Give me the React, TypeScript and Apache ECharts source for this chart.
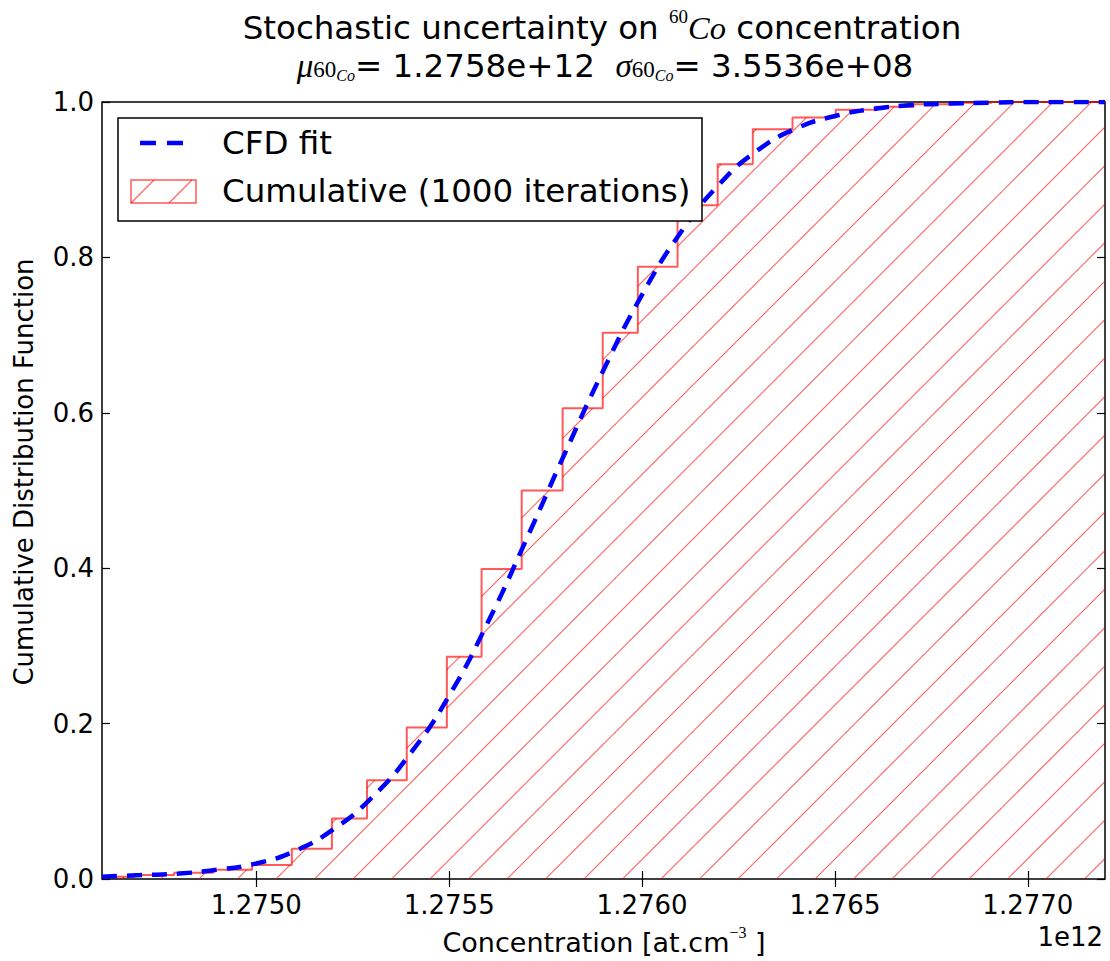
import React, { useEffect, useRef } from "react";
import * as echarts from "echarts";

// ---- data ----
const xMin = 1.2746e12;
const xMax = 1.2772e12;
const xTickValues = [1.275e12, 1.2755e12, 1.276e12, 1.2765e12, 1.277e12];
const yTickValues = [0, 0.2, 0.4, 0.6, 0.8, 1.0];

// left edges of the cumulative histogram bins
const binEdges = [
  1.274584e12, 1.274685e12, 1.274787e12, 1.274888e12, 1.274989e12, 1.275092e12,
  1.275196e12, 1.275287e12, 1.27539e12, 1.275494e12, 1.275584e12, 1.275688e12,
  1.275794e12, 1.275898e12, 1.275989e12, 1.276092e12, 1.276196e12, 1.276287e12,
  1.27639e12, 1.276502e12, 1.276603e12, 1.276704e12, 1.276805e12, 1.276906e12,
];
// cumulative fraction in each bin
const cumulative = [
  0.003, 0.005, 0.008, 0.012, 0.018, 0.039, 0.078, 0.127, 0.195, 0.286, 0.399, 0.5,
  0.606, 0.703, 0.788, 0.867, 0.92, 0.965, 0.98, 0.99, 0.994, 0.997, 0.999, 1.0,
];

// CFD fit curve
const fitX = [
  1.2746e12, 1.2747e12, 1.2748e12, 1.2749e12, 1.275e12, 1.2751e12, 1.2752e12, 1.2753e12,
  1.2754e12, 1.2755e12, 1.2756e12, 1.2757e12, 1.2758e12, 1.2759e12, 1.276e12, 1.2761e12,
  1.2762e12, 1.2763e12, 1.2764e12, 1.2765e12, 1.2766e12, 1.2767e12, 1.2768e12, 1.2769e12,
  1.277e12, 1.2771e12, 1.2772e12,
];
const fitY = [
  0.003, 0.005, 0.007, 0.012, 0.02, 0.036, 0.064, 0.105, 0.162, 0.236, 0.33, 0.437,
  0.548, 0.655, 0.752, 0.832, 0.894, 0.938, 0.966, 0.982, 0.991, 0.996, 0.998, 0.999, 1.0,
  1.0, 1.0,
];

const legendLabels = ["CFD fit", "Cumulative (1000 iterations)"];
const titleLine1 = "Stochastic uncertainty on {sup|60}{it|Co} concentration";
const titleLine2 = "{m|μ}{s1|60}{s2|Co}= 1.2758e+12  {m|σ}{s1|60}{s2|Co}= 3.5536e+08";
const xName = "Concentration [at.cm{sup|−3} ]";
const yName = "Cumulative Distribution Function";
const offsetText = "1e12";

const HATCH = "rgba(255,0,0,0.6)";
const STEP = "rgba(255,0,0,0.65)";

function makeHatch(): HTMLCanvasElement {
  const s = 77;
  const c = document.createElement("canvas");
  c.width = s;
  c.height = s;
  const ctx = c.getContext("2d")!;
  ctx.strokeStyle = HATCH;
  ctx.lineWidth = 1.2;
  for (let k = -2; k <= 5; k++) {
    const cc = k * 38.5;
    ctx.beginPath();
    ctx.moveTo(cc + 10, -10);
    ctx.lineTo(cc - 90, 90);
    ctx.stroke();
  }
  return c;
}

export default function App() {
  const ref = useRef<HTMLDivElement>(null);
  useEffect(() => {
    document.body.style.margin = "0";
    const chart = echarts.init(ref.current!, null, { renderer: "svg" });
    const hatch = makeHatch();
    const stepData = binEdges.map((e, i) => [e, cumulative[i]]);
    stepData.push([xMax, cumulative[cumulative.length - 1]]);
    const fitData = fitX.map((x, i) => [x, fitY[i]]);
    const tick = {
      inside: true,
      length: 8,
      lineStyle: { color: "#000", width: 1.2 },
    };
    const font = "DejaVu Sans";
    const serif = "Liberation Serif";
    const option: any = {
      animation: false,
      textStyle: { fontFamily: font },
      grid: {
        left: 102,
        right: 5,
        top: 102,
        bottom: 82,
        show: true,
        borderColor: "#000",
        borderWidth: 1.5,
        backgroundColor: "transparent",
      },
      xAxis: [
        {
          type: "value",
          min: xMin,
          max: xMax,
          position: "bottom",
          axisLine: { show: false },
          splitLine: { show: false },
          axisTick: { ...tick, customValues: xTickValues },
          axisLabel: {
            customValues: xTickValues,
            formatter: (v: number) => (v / 1e12).toFixed(4),
            fontSize: 26,
            color: "#000",
            margin: 13,
            fontFamily: font,
          },
        },
        {
          type: "value",
          min: xMin,
          max: xMax,
          position: "top",
          axisLine: { show: false },
          splitLine: { show: false },
          axisTick: { ...tick, customValues: xTickValues },
          axisLabel: { show: false },
        },
      ],
      yAxis: [
        {
          type: "value",
          min: 0,
          max: 1,
          interval: 0.2,
          position: "left",
          axisLine: { show: false },
          splitLine: { show: false },
          axisTick: { ...tick },
          axisLabel: {
            formatter: (v: number) => v.toFixed(1),
            fontSize: 26,
            color: "#000",
            margin: 8,
            fontFamily: font,
          },
        },
        {
          type: "value",
          min: 0,
          max: 1,
          interval: 0.2,
          position: "right",
          axisLine: { show: false },
          splitLine: { show: false },
          axisTick: { ...tick },
          axisLabel: { show: false },
        },
      ],
      series: [
        {
          name: legendLabels[1],
          type: "line",
          step: "end",
          data: stepData,
          xAxisIndex: 0,
          yAxisIndex: 0,
          symbol: "none",
          clip: true,
          lineStyle: { color: STEP, width: 2 },
          areaStyle: {
            color: { image: hatch, repeat: "repeat" },
            opacity: 1,
          },
          z: 2,
          silent: true,
        },
        {
          name: legendLabels[0],
          type: "line",
          data: fitData,
          xAxisIndex: 0,
          yAxisIndex: 0,
          symbol: "none",
          smooth: 0.5,
          clip: true,
          lineStyle: { color: "#0000ff", width: 4.5, type: [15, 10] },
          z: 3,
          silent: true,
        },
      ],
      graphic: [
        {
          type: "text",
          x: 602,
          y: 28,
          z: 100,
          style: {
            text: titleLine1,
            fontSize: 32.5,
            fontFamily: font,
            fill: "#000",
            align: "center",
            verticalAlign: "middle",
            lineHeight: 42,
            rich: {
              sup: { fontSize: 19, fontFamily: serif, verticalAlign: "top", height: 19 },
              it: { fontSize: 32.5, fontFamily: serif, fontStyle: "italic" },
            },
          },
        },
        {
          type: "text",
          x: 605,
          y: 66,
          z: 100,
          style: {
            text: titleLine2,
            fontSize: 32.5,
            fontFamily: font,
            fill: "#000",
            align: "center",
            verticalAlign: "middle",
            lineHeight: 34,
            rich: {
              m: { fontSize: 33, fontFamily: serif, fontStyle: "italic" },
              s1: { fontSize: 23, fontFamily: serif, verticalAlign: "bottom", height: 27 },
              s2: { fontSize: 16, fontFamily: serif, fontStyle: "italic", verticalAlign: "bottom", height: 15 },
            },
          },
        },
        {
          type: "text",
          x: 604,
          y: 942,
          z: 100,
          style: {
            text: xName,
            fontSize: 27,
            fontFamily: font,
            fill: "#000",
            align: "center",
            verticalAlign: "middle",
            lineHeight: 36,
            rich: {
              sup: { fontSize: 16, fontFamily: serif, verticalAlign: "top", height: 17 },
            },
          },
        },
        {
          type: "text",
          x: 24,
          y: 472,
          rotation: Math.PI / 2,
          z: 100,
          style: {
            text: yName,
            fontSize: 26,
            fontFamily: font,
            fill: "#000",
            align: "center",
            verticalAlign: "middle",
          },
        },
        {
          type: "text",
          x: 1103,
          y: 937,
          z: 100,
          style: {
            text: offsetText,
            fontSize: 26,
            fontFamily: font,
            fill: "#000",
            align: "right",
            verticalAlign: "middle",
          },
        },
        {
          type: "rect",
          z: 100,
          shape: { x: 118, y: 118, width: 584, height: 103 },
          style: { fill: "#fff", stroke: "#000", lineWidth: 1.5 },
        },
        {
          type: "line",
          z: 101,
          shape: { x1: 140, y1: 143, x2: 183, y2: 143 },
          style: { stroke: "#0000ff", lineWidth: 4.5, lineDash: [16, 11] },
        },
        {
          type: "rect",
          z: 101,
          shape: { x: 131, y: 180, width: 65, height: 23 },
          style: { fill: "#fff", stroke: STEP, lineWidth: 1.5 },
        },
        {
          type: "line",
          z: 102,
          shape: { x1: 131, y1: 203, x2: 154, y2: 180 },
          style: { stroke: HATCH, lineWidth: 1.2 },
        },
        {
          type: "line",
          z: 102,
          shape: { x1: 169, y1: 203, x2: 192, y2: 180 },
          style: { stroke: HATCH, lineWidth: 1.2 },
        },
        {
          type: "text",
          x: 222,
          y: 143,
          z: 102,
          style: {
            text: legendLabels[0],
            fontSize: 32.5,
            fontFamily: font,
            fill: "#000",
            align: "left",
            verticalAlign: "middle",
          },
        },
        {
          type: "text",
          x: 222,
          y: 191,
          z: 102,
          style: {
            text: legendLabels[1],
            fontSize: 32.5,
            fontFamily: font,
            fill: "#000",
            align: "left",
            verticalAlign: "middle",
          },
        },
      ],
    };
    void yTickValues;
    chart.setOption(option);
    return () => chart.dispose();
  }, []);
  return <div ref={ref} style={{ width: 1110, height: 961 }} />;
}
